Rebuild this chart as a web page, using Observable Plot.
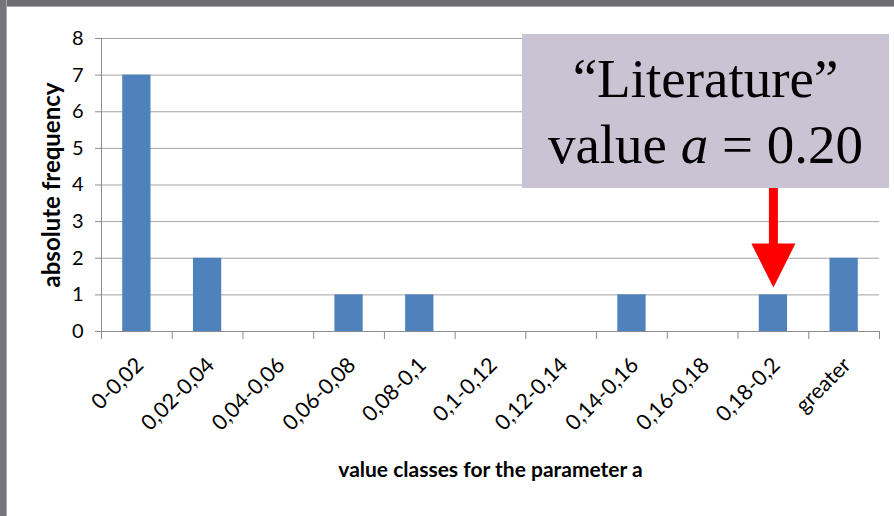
<!DOCTYPE html>
<html><head><meta charset="utf-8">
<script src="https://cdn.jsdelivr.net/npm/d3@7"></script>
<script src="https://cdn.jsdelivr.net/npm/@observablehq/plot@0.6"></script>
<style>
body{margin:0;background:#fff;}
#wrap{position:relative;width:894px;height:516px;overflow:hidden;background:#fff;}
#wrap svg{position:absolute;left:0;top:0;}
.ft{position:absolute;left:0;top:0;width:894px;height:6px;background:#6f6f73;border-bottom:1px solid #a9a9ad;}
.fl{position:absolute;left:0;top:0;width:6px;height:516px;background:#77777b;border-right:1px solid #a9a9ad;}
#box{position:absolute;left:522px;top:34px;width:367px;height:154px;background:#c9c3d4;font-family:"Liberation Serif",serif;font-size:55px;color:#000;}
#box div{position:absolute;left:0;width:100%;text-align:center;line-height:55px;white-space:nowrap;}
</style></head>
<body><div id="wrap"></div>
<script>
const categories = ["0-0,02","0,02-0,04","0,04-0,06","0,06-0,08","0,08-0,1","0,1-0,12","0,12-0,14","0,14-0,16","0,16-0,18","0,18-0,2","greater"];
const counts = [7,2,0,1,1,0,0,1,0,1,2];
const yTicks = [0,1,2,3,4,5,6,7,8];
const xTitle = "value classes for the parameter a";
const yTitle = "absolute frequency";
const markedClass = "0,18-0,2";

const data = categories.map((c,i)=>({c, i, n: counts[i]}));
const mi = categories.indexOf(markedClass);

const font = "Lato, 'Open Sans', sans-serif";

const arrowHead = {
  draw(ctx){ ctx.moveTo(-22,-44); ctx.lineTo(22,-44); ctx.lineTo(0,0); ctx.closePath(); }
};

const plot = Plot.plot({
  width: 894, height: 516,
  marginLeft: 101, marginRight: 15, marginTop: 38, marginBottom: 185,
  style: {fontFamily: font, fontSize: "20px", color: "#000", background: "transparent", overflow: "visible"},
  x: {type: "linear", domain: [0, categories.length]},
  y: {domain: [0, 8]},
  marks: [
    Plot.gridY(yTicks.filter(d=>d>0), {stroke: "#a3a3a3", strokeOpacity: 1}),
    Plot.rectY(data, {x1: d=>d.i+0.3, x2: d=>d.i+0.7, y: "n", fill: "#4f81bd"}),
    Plot.ruleX([0], {stroke: "#8c8c8c"}),
    Plot.ruleY([0], {stroke: "#8c8c8c"}),
    Plot.axisY({ticks: yTicks, tickSize: 6, tickPadding: 12, stroke: "#8c8c8c", label: null, fontSize: 20}),
    Plot.axisX({ticks: d3.range(categories.length+1), tickSize: 8, tickFormat: () => "", stroke: "#8c8c8c", label: null}),
    Plot.axisX({ticks: categories.map((c,i)=>i+0.5), tickSize: 0, tickPadding: 30, dx: 3, tickRotate: -45,
      tickFormat: d => categories[Math.round(d-0.5)], label: null, fontSize: 21.5}),
    Plot.text([xTitle], {frameAnchor: "bottom", dy: 139, lineAnchor: "middle", fontWeight: "bold", fontSize: 21}),
    Plot.text([yTitle], {frameAnchor: "left", dx: -49, rotate: -90, textAnchor: "middle", lineAnchor: "middle", fontWeight: "bold", fontSize: 24}),
    Plot.ruleX([mi+0.5], {y1: 2.35, y2: 4.1, stroke: "#ff0000", strokeWidth: 9}),
    Plot.dot([mi+0.5], {x: d=>d, y: 1.2, symbol: arrowHead, fill: "#ff0000", stroke: "none"})
  ]
});

const wrap = document.getElementById("wrap");
wrap.appendChild(plot);
const ft = document.createElement("div"); ft.className = "ft"; wrap.appendChild(ft);
const fl = document.createElement("div"); fl.className = "fl"; wrap.appendChild(fl);
const box = document.createElement("div"); box.id = "box";
box.innerHTML = '<div style="top:17px">“Literature”</div><div style="top:83px">value <i>a</i> = 0.20</div>';
wrap.appendChild(box);
</script>
</body></html>
